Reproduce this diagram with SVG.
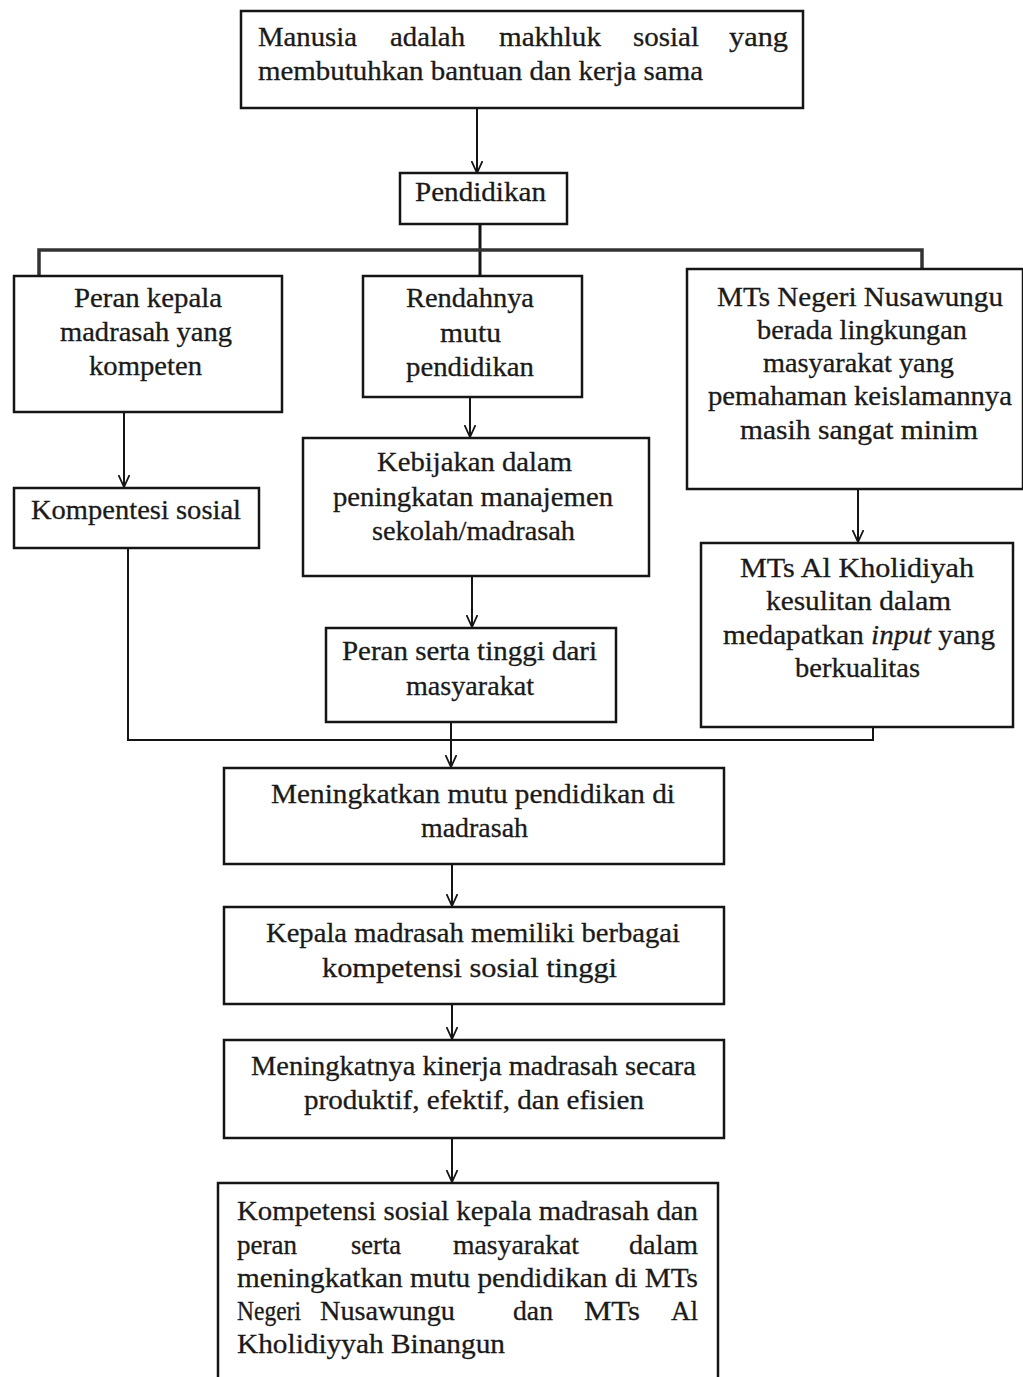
<svg xmlns="http://www.w3.org/2000/svg" width="1023" height="1377" viewBox="0 0 1023 1377" font-family="'Liberation Serif', 'Times New Roman', Times, serif">
<style>
rect.box{fill:#fff;stroke:#151515;stroke-width:2.5}
text{font-family:'Liberation Serif','Times New Roman',Times,serif;font-size:28px;fill:#1a1a1a;stroke:#1a1a1a;stroke-width:0.3}
.c{fill:none;stroke:#151515;stroke-width:2}
</style>
<defs>
<marker id="ah" viewBox="0 0 12 12" refX="12" refY="6" markerWidth="12" markerHeight="12" markerUnits="userSpaceOnUse" orient="auto">
<path d="M0,0.5 L12,6 L0,11.5" fill="none" stroke="#151515" stroke-width="1.8"/>
</marker>
</defs>
<rect width="1023" height="1377" fill="#fff"/>

<g id="connectors">
<path class="c" d="M477,108 V173" marker-end="url(#ah)"/>
<path class="c" d="M480,224 V276" style="stroke-width:3"/>
<path class="c" d="M39,276 V250 H922 V269" style="stroke-width:3.5;stroke:#333"/>
<path class="c" d="M124,412 V487" marker-end="url(#ah)"/>
<path class="c" d="M470,397 V437" marker-end="url(#ah)"/>
<path class="c" d="M472,576 V627" marker-end="url(#ah)"/>
<path class="c" d="M858,489 V542" marker-end="url(#ah)"/>
<path class="c" d="M128,548 V740 H873 V727"/>
<path class="c" d="M451,722 V767" marker-end="url(#ah)"/>
<path class="c" d="M452,864 V906" marker-end="url(#ah)"/>
<path class="c" d="M452,1004 V1039" marker-end="url(#ah)"/>
<path class="c" d="M452,1138 V1182" marker-end="url(#ah)"/>
</g>

<g id="n-manusia">
<rect class="box" x="241" y="11" width="562" height="97"/>
<text x="258" y="46" textLength="99" lengthAdjust="spacingAndGlyphs">Manusia</text>
<text x="390" y="46" textLength="75" lengthAdjust="spacingAndGlyphs">adalah</text>
<text x="499" y="46" textLength="102" lengthAdjust="spacingAndGlyphs">makhluk</text>
<text x="633" y="46" textLength="66" lengthAdjust="spacingAndGlyphs">sosial</text>
<text x="729" y="46" textLength="59" lengthAdjust="spacingAndGlyphs">yang</text>
<text x="258" y="80" textLength="445" lengthAdjust="spacingAndGlyphs">membutuhkan bantuan dan kerja sama</text>
</g>

<g id="n-pendidikan">
<rect class="box" x="400" y="173" width="167" height="51"/>
<text x="415" y="201" textLength="131" lengthAdjust="spacingAndGlyphs">Pendidikan</text>
</g>

<g id="n-peran-kepala">
<rect class="box" x="14" y="276" width="268" height="136"/>
<text x="74" y="307" textLength="148" lengthAdjust="spacingAndGlyphs">Peran kepala</text>
<text x="60" y="341" textLength="172" lengthAdjust="spacingAndGlyphs">madrasah yang</text>
<text x="89" y="375" textLength="113" lengthAdjust="spacingAndGlyphs">kompeten</text>
</g>

<g id="n-kompentesi">
<rect class="box" x="14" y="488" width="245" height="60"/>
<text x="31" y="519" textLength="210" lengthAdjust="spacingAndGlyphs">Kompentesi sosial</text>
</g>

<g id="n-rendahnya">
<rect class="box" x="363" y="276" width="219" height="121"/>
<text x="406" y="307" textLength="128" lengthAdjust="spacingAndGlyphs">Rendahnya</text>
<text x="440" y="342" textLength="61" lengthAdjust="spacingAndGlyphs">mutu</text>
<text x="406" y="376" textLength="128" lengthAdjust="spacingAndGlyphs">pendidikan</text>
</g>

<g id="n-kebijakan">
<rect class="box" x="303" y="438" width="346" height="138"/>
<text x="377" y="471" textLength="195" lengthAdjust="spacingAndGlyphs">Kebijakan dalam</text>
<text x="333" y="506" textLength="280" lengthAdjust="spacingAndGlyphs">peningkatan manajemen</text>
<text x="372" y="540" textLength="203" lengthAdjust="spacingAndGlyphs">sekolah/madrasah</text>
</g>

<g id="n-peran-serta">
<rect class="box" x="326" y="628" width="290" height="94"/>
<text x="342" y="660" textLength="255" lengthAdjust="spacingAndGlyphs">Peran serta tinggi dari</text>
<text x="406" y="695" textLength="128" lengthAdjust="spacingAndGlyphs">masyarakat</text>
</g>

<g id="n-mts-negeri">
<rect class="box" x="687" y="269" width="336" height="220"/>
<text x="717" y="306" textLength="286" lengthAdjust="spacingAndGlyphs">MTs Negeri Nusawungu</text>
<text x="757" y="339" textLength="210" lengthAdjust="spacingAndGlyphs">berada lingkungan</text>
<text x="763" y="372" textLength="191" lengthAdjust="spacingAndGlyphs">masyarakat yang</text>
<text x="708" y="405" textLength="304" lengthAdjust="spacingAndGlyphs">pemahaman keislamannya</text>
<text x="740" y="439" textLength="238" lengthAdjust="spacingAndGlyphs">masih sangat minim</text>
</g>

<g id="n-mts-al">
<rect class="box" x="701" y="543" width="312" height="184"/>
<text x="740" y="577" textLength="234" lengthAdjust="spacingAndGlyphs">MTs Al Kholidiyah</text>
<text x="766" y="610" textLength="185" lengthAdjust="spacingAndGlyphs">kesulitan dalam</text>
<text x="723" y="644" textLength="272" lengthAdjust="spacingAndGlyphs">medapatkan <tspan font-style="italic">input</tspan> yang</text>
<text x="795" y="677" textLength="125" lengthAdjust="spacingAndGlyphs">berkualitas</text>
</g>

<g id="n-meningkatkan">
<rect class="box" x="224" y="768" width="500" height="96"/>
<text x="271" y="803" textLength="404" lengthAdjust="spacingAndGlyphs">Meningkatkan mutu pendidikan di</text>
<text x="421" y="837" textLength="107" lengthAdjust="spacingAndGlyphs">madrasah</text>
</g>

<g id="n-kepala">
<rect class="box" x="224" y="907" width="500" height="97"/>
<text x="266" y="942" textLength="414" lengthAdjust="spacingAndGlyphs">Kepala madrasah memiliki berbagai</text>
<text x="322" y="977" textLength="295" lengthAdjust="spacingAndGlyphs">kompetensi sosial tinggi</text>
</g>

<g id="n-kinerja">
<rect class="box" x="224" y="1040" width="500" height="98"/>
<text x="251" y="1075" textLength="445" lengthAdjust="spacingAndGlyphs">Meningkatnya kinerja madrasah secara</text>
<text x="304" y="1109" textLength="340" lengthAdjust="spacingAndGlyphs">produktif, efektif, dan efisien</text>
</g>

<g id="n-kompetensi-akhir">
<rect class="box" x="218" y="1183" width="500" height="196"/>
<text x="237" y="1220" textLength="461" lengthAdjust="spacingAndGlyphs">Kompetensi sosial kepala madrasah dan</text>
<text x="237" y="1254" textLength="60" lengthAdjust="spacingAndGlyphs">peran</text>
<text x="351" y="1254" textLength="50" lengthAdjust="spacingAndGlyphs">serta</text>
<text x="453" y="1254" textLength="126" lengthAdjust="spacingAndGlyphs">masyarakat</text>
<text x="629" y="1254" textLength="69" lengthAdjust="spacingAndGlyphs">dalam</text>
<text x="237" y="1287" textLength="461" lengthAdjust="spacingAndGlyphs">meningkatkan mutu pendidikan di MTs</text>
<text x="237" y="1320" textLength="64" lengthAdjust="spacingAndGlyphs">Negeri</text>
<text x="320" y="1320" textLength="135" lengthAdjust="spacingAndGlyphs">Nusawungu</text>
<text x="513" y="1320" textLength="40" lengthAdjust="spacingAndGlyphs">dan</text>
<text x="584" y="1320" textLength="56" lengthAdjust="spacingAndGlyphs">MTs</text>
<text x="671" y="1320" textLength="27" lengthAdjust="spacingAndGlyphs">Al</text>
<text x="237" y="1353" textLength="268" lengthAdjust="spacingAndGlyphs">Kholidiyyah Binangun</text>
</g>
</svg>
